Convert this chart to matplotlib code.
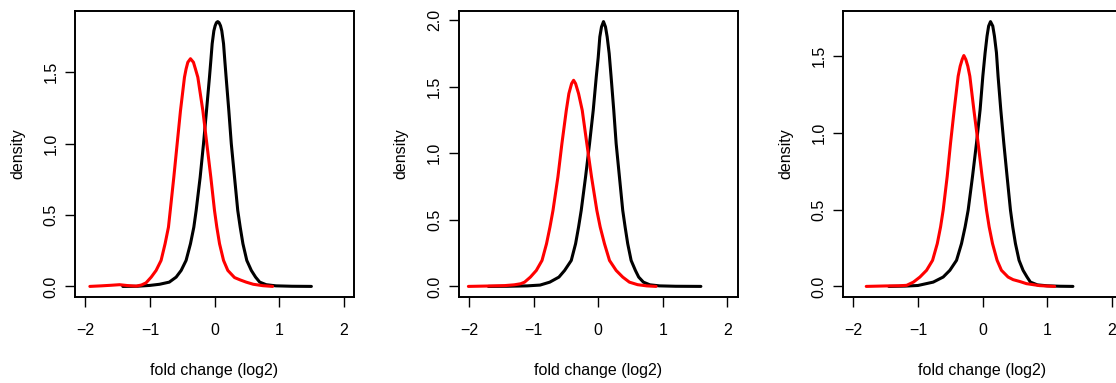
import numpy as np
import matplotlib
matplotlib.use("Agg")
import matplotlib.pyplot as plt

# ---------------- data ----------------
p1_black_x = [-1.42, -1.2, -1.0, -0.85, -0.70, -0.594, -0.516, -0.44, -0.372, -0.32, -0.284, -0.222,
              -0.17, -0.124, -0.078, -0.057, -0.036, -0.01, 0.01, 0.03, 0.05, 0.07, 0.093, 0.113,
              0.14, 0.16, 0.18, 0.222, 0.26, 0.31, 0.36, 0.398, 0.44, 0.50, 0.57, 0.636, 0.70,
              0.80, 0.95, 1.2, 1.5]
p1_black_y = [0.0, 0.001, 0.007, 0.015, 0.03, 0.065, 0.112, 0.182, 0.299, 0.415, 0.532, 0.765,
              1.0, 1.23, 1.465, 1.58, 1.70, 1.79, 1.826, 1.848, 1.855, 1.848, 1.826, 1.79,
              1.70, 1.58, 1.465, 1.23, 1.0, 0.765, 0.532, 0.415, 0.299, 0.182, 0.112, 0.065, 0.03,
              0.012, 0.004, 0.001, 0.0]
p1_red_x = [-1.93, -1.75, -1.6, -1.47, -1.35, -1.21, -1.13, -1.06, -0.98, -0.904, -0.827, -0.765,
            -0.713, -0.685, -0.63, -0.578, -0.527, -0.465, -0.44, -0.413, -0.372, -0.326, -0.295,
            -0.258, -0.18, -0.119, -0.057, 0.0, 0.036, 0.078, 0.14, 0.206, 0.31, 0.40, 0.49, 0.60,
            0.75, 0.90]
p1_red_y = [0.0, 0.004, 0.008, 0.012, 0.006, 0.002, 0.01, 0.025, 0.065, 0.112, 0.182, 0.299,
            0.415, 0.532, 0.765, 1.0, 1.23, 1.465, 1.523, 1.57, 1.595, 1.57, 1.523,
            1.465, 1.23, 1.0, 0.765, 0.532, 0.415, 0.299, 0.182, 0.112, 0.062, 0.045, 0.03, 0.015,
            0.005, 0.0]

p2_black_x = [-1.70, -1.4, -1.1, -0.9, -0.75, -0.608, -0.52, -0.417, -0.35, -0.304, -0.263, -0.196,
              -0.134, -0.077, -0.03, 0.0, 0.025, 0.051, 0.082, 0.113, 0.139, 0.17, 0.20, 0.241,
              0.278, 0.329, 0.38, 0.417, 0.457, 0.51, 0.576, 0.627, 0.70, 0.80, 0.95, 1.2, 1.59]
p2_black_y = [0.0, 0.001, 0.004, 0.01, 0.032, 0.07, 0.12, 0.195, 0.321, 0.446, 0.571, 0.822,
              1.073, 1.323, 1.574, 1.72, 1.875, 1.95, 1.99, 1.95, 1.875, 1.75, 1.574, 1.323,
              1.073, 0.822, 0.571, 0.446, 0.321, 0.195, 0.12, 0.07, 0.032, 0.012, 0.004, 0.001, 0.0]
p2_red_x = [-2.01, -1.7, -1.45, -1.3, -1.2, -1.14, -1.05, -0.958, -0.87, -0.80, -0.747, -0.70,
            -0.624, -0.562, -0.494, -0.454, -0.412, -0.381, -0.35, -0.304, -0.247, -0.176, -0.103,
            -0.021, 0.031, 0.097, 0.175, 0.278, 0.38, 0.483, 0.61, 0.75, 0.896]
p2_red_y = [0.0, 0.003, 0.006, 0.012, 0.02, 0.032, 0.07, 0.12, 0.195, 0.321, 0.446, 0.571,
            0.822, 1.073, 1.323, 1.449, 1.524, 1.549, 1.524, 1.449, 1.323, 1.073, 0.822,
            0.571, 0.446, 0.321, 0.195, 0.12, 0.07, 0.032, 0.013, 0.004, 0.0]

p3_black_x = [-1.45, -1.2, -1.0, -0.763, -0.609, -0.505, -0.402, -0.325, -0.269, -0.222, -0.155,
              -0.093, -0.037, 0.005, 0.04, 0.07, 0.095, 0.124, 0.159, 0.185, 0.216, 0.241, 0.283,
              0.33, 0.381, 0.433, 0.468, 0.51, 0.566, 0.628, 0.69, 0.742, 0.85, 1.0, 1.2, 1.40]
p3_black_y = [0.0, 0.002, 0.006, 0.028, 0.061, 0.105, 0.17, 0.279, 0.388, 0.497, 0.715,
              0.933, 1.151, 1.369, 1.52, 1.63, 1.696, 1.725, 1.696, 1.63, 1.522, 1.369, 1.151,
              0.933, 0.715, 0.497, 0.388, 0.279, 0.17, 0.105, 0.061, 0.028, 0.01, 0.004, 0.001, 0.0]
p3_red_x = [-1.80, -1.5, -1.3, -1.175, -1.07, -0.969, -0.866, -0.773, -0.70, -0.649, -0.609, -0.547,
            -0.495, -0.438, -0.377, -0.346, -0.315, -0.289, -0.258, -0.227, -0.196, -0.134, -0.068,
            -0.006, 0.062, 0.103, 0.155, 0.226, 0.293, 0.396, 0.474, 0.577, 0.68, 0.886, 1.117]
p3_red_y = [0.0, 0.003, 0.004, 0.007, 0.028, 0.061, 0.105, 0.17, 0.279, 0.388, 0.497, 0.715,
            0.933, 1.151, 1.369, 1.434, 1.478, 1.504, 1.478, 1.434, 1.369, 1.151, 0.933,
            0.715, 0.497, 0.388, 0.279, 0.17, 0.105, 0.061, 0.044, 0.032, 0.018, 0.005, 0.0]

x_ticks = [-2, -1, 0, 1, 2]
x_label = "fold change (log2)"
y_label = "density"

panels = [
    (p1_black_x, p1_black_y, p1_red_x, p1_red_y),
    (p2_black_x, p2_black_y, p2_red_x, p2_red_y),
    (p3_black_x, p3_black_y, p3_red_x, p3_red_y),
]

# ---------------- style ----------------
plt.rcParams["font.family"] = ["Liberation Sans", "DejaVu Sans"]
fsize = 11.5

W, H = 1116, 383
fig = plt.figure(figsize=(W / 100, H / 100), dpi=100)
lefts = [75, 458.7, 843]
ax_w, ax_top, ax_bot = 279, 11, 297

for (bx, by, rx, ry), left in zip(panels, lefts):
    ax = fig.add_axes([left / W, (H - ax_bot) / H, ax_w / W, (ax_bot - ax_top) / H])
    ax.plot(bx, by, color="black", lw=2.2, solid_joinstyle="round", solid_capstyle="round")
    ax.plot(rx, ry, color="#ff0000", lw=2.2, solid_joinstyle="round", solid_capstyle="round")
    ymax = max(max(by), max(ry))
    lo, hi = -0.04 * ymax, 1.04 * ymax
    ax.set_xlim(-2.16, 2.16)
    ax.set_ylim(lo, hi)
    ax.set_xticks(x_ticks)
    ax.set_xticklabels([str(t).replace("-", "\u2212") for t in x_ticks])
    yt = np.arange(0, hi, 0.5)
    ax.set_yticks(yt)
    ax.set_yticklabels(["%.1f" % v for v in yt])
    for s in ax.spines.values():
        s.set_linewidth(1.4)
    ax.tick_params(axis="both", direction="out", length=7, width=1.0, labelsize=fsize)
    ax.tick_params(axis="x", pad=12)
    ax.tick_params(axis="y", pad=5)
    for lbl in ax.get_yticklabels():
        lbl.set_rotation(90)
        lbl.set_va("center")
    ax.text(0.5, -0.2587, x_label, transform=ax.transAxes, ha="center", va="center",
            fontsize=fsize)
    ax.text(-0.206, 0.5, y_label, transform=ax.transAxes, ha="center", va="center",
            rotation=90, fontsize=fsize)

fig.savefig("out.png", dpi=100)
